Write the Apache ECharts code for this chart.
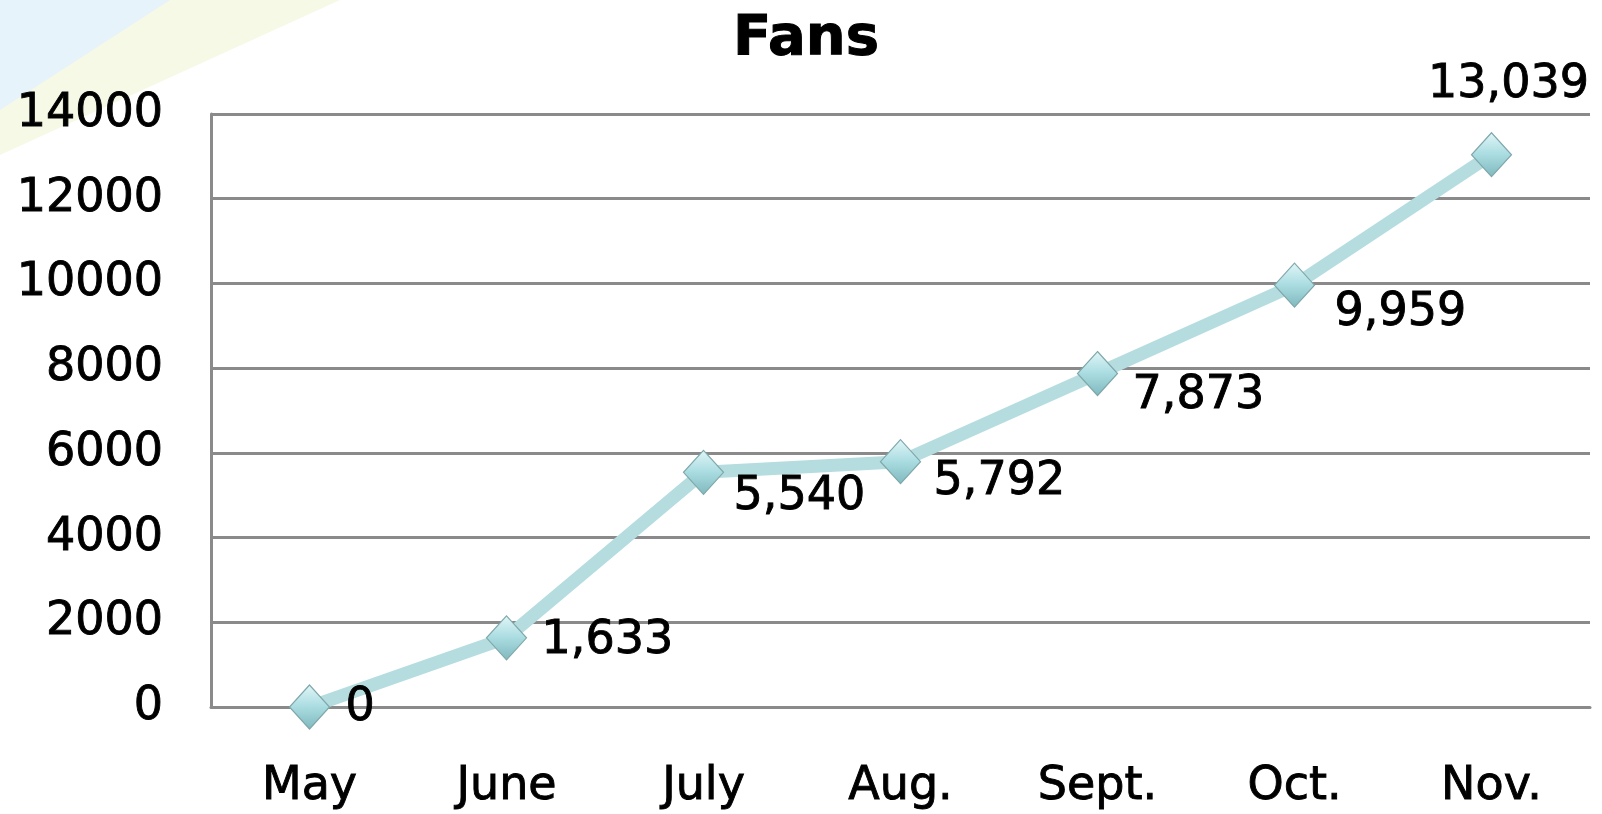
<!DOCTYPE html>
<html>
<head>
<meta charset="utf-8">
<style>
  html, body { margin: 0; padding: 0; background: #ffffff; }
  #chart { width: 1602px; height: 814px; }
</style>
<script src="https://cdn.jsdelivr.net/npm/echarts@6/dist/echarts.min.js"></script>
</head>
<body>
<div id="chart"></div>
<script>
// ---- data ----
const titleText = 'Fans';
const categories = ['May', 'June', 'July', 'Aug.', 'Sept.', 'Oct.', 'Nov.'];
const fans = [0, 1633, 5540, 5792, 7873, 9959, 13039];
const yTicks = [0, 2000, 4000, 6000, 8000, 10000, 12000, 14000];

// ---- label placement (style, not data) ----
const labelOffsets = [[36, 1], [35, 3], [30, 25], [33, 20], [35, 23], [40, 28], [17, -70]];
const labelAligns = ['left', 'left', 'left', 'left', 'left', 'left', 'center'];

const chart = echarts.init(document.getElementById('chart'));

const markerColor = new echarts.graphic.LinearGradient(0, 0, 0, 1, [
  { offset: 0, color: '#e2f6f8' },
  { offset: 0.5, color: '#a9dce1' },
  { offset: 1, color: '#7fb8bd' }
]);

const txt = {
  fontFamily: 'DejaVu Sans',
  fontSize: 46,
  color: '#000000',
  textBorderColor: '#000000',
  textBorderWidth: 0.9
};

const seriesData = fans.map((v, i) => ({
  value: v,
  label: {
    offset: labelOffsets[i],
    align: labelAligns[i]
  }
}));

chart.setOption({
  animation: false,
  backgroundColor: '#ffffff',
  graphic: [
    {
      type: 'polygon', z: -10, silent: true,
      shape: { points: [[0, 0], [340, 0], [0, 155]] },
      style: { fill: '#f7f9e7' }
    },
    {
      type: 'polygon', z: -9, silent: true,
      shape: { points: [[0, 0], [170, 0], [0, 110]] },
      style: { fill: '#e6f3fa' }
    }
  ],
  title: {
    text: titleText,
    left: 801,
    top: 34,
    textAlign: 'center',
    textVerticalAlign: 'middle',
    textStyle: {
      fontFamily: 'DejaVu Sans',
      fontWeight: 'bold',
      fontSize: 56,
      color: '#000000',
      textBorderColor: '#000000',
      textBorderWidth: 1
    }
  },
  grid: { left: 211, top: 114, right: 12, bottom: 107, containLabel: false },
  xAxis: {
    type: 'category',
    data: categories,
    boundaryGap: true,
    axisLine: { show: true, lineStyle: { color: '#8a8a8a', width: 3 } },
    axisTick: { show: false },
    axisLabel: Object.assign({ margin: 57 }, txt),
    splitLine: { show: false }
  },
  yAxis: {
    type: 'value',
    min: yTicks[0],
    max: yTicks[yTicks.length - 1],
    interval: 2000,
    axisLine: { show: true, lineStyle: { color: '#8a8a8a', width: 3 } },
    axisTick: { show: false },
    axisLabel: Object.assign({ margin: 48, formatter: v => String(v) }, txt),
    splitLine: { show: true, lineStyle: { color: '#8a8a8a', width: 3 } }
  },
  series: [{
    type: 'line',
    data: seriesData,
    symbol: 'diamond',
    symbolSize: [40, 44],
    lineStyle: { color: '#b5dde0', width: 13 },
    itemStyle: { color: markerColor, borderColor: '#7fa7aa', borderWidth: 1.2 },
    label: Object.assign({
      show: true,
      position: 'inside',
      verticalAlign: 'middle',
      formatter: p => p.value.toLocaleString('en-US')
    }, txt),
    z: 3
  }]
});
</script>
</body>
</html>
